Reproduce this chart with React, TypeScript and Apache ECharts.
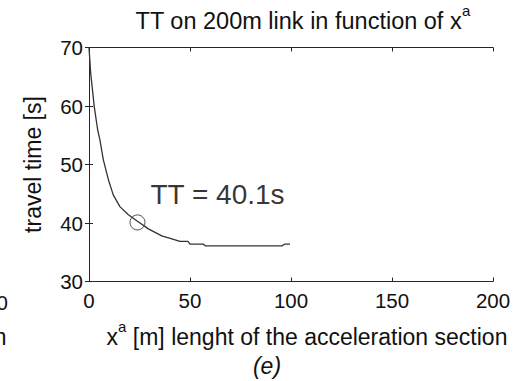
import React, { useEffect, useRef } from "react";
import * as echarts from "echarts";

// x^a [m] : length of acceleration section
const accelLength = [0, 0.8, 2.6, 4.3, 5.4, 7.1, 9.6, 12.0, 15.3, 19.5, 24, 29.4, 36, 41, 45, 49, 50, 56.5, 57.5, 95.5, 97, 99.5];
// travel time [s]
const travelTime = [70, 65.7, 59.9, 55.9, 54.2, 50.8, 47.4, 44.8, 42.8, 41.4, 40.3, 39.0, 37.8, 37.3, 36.85, 36.85, 36.4, 36.4, 36.1, 36.1, 36.4, 36.4];
// highlighted point
const markerX = [24];
const markerTT = [40.1];
const xTicks = [0, 50, 100, 150, 200];
const yTicks = [30, 40, 50, 60, 70];

const FONT = "'Liberation Sans', Arial, Helvetica, sans-serif";
const AX = "#262626";
const TXT = "#111";

type Seg = { text: string; size: number; dy: number };

function measure(text: string, size: number): number {
  const c = document.createElement("canvas");
  const ctx = c.getContext("2d")!;
  ctx.font = `${size}px ${FONT}`;
  return ctx.measureText(text).width;
}

function segmentedText(segs: Seg[], x: number, y: number, align: "left" | "center" | "right") {
  const widths = segs.map((s) => measure(s.text, s.size));
  const total = widths.reduce((a, b) => a + b, 0);
  let cx = align === "left" ? x : align === "center" ? x - total / 2 : x - total;
  const out: any[] = [];
  segs.forEach((s, i) => {
    out.push({
      type: "text",
      x: cx,
      y: y + s.dy,
      style: {
        text: s.text, fontSize: s.size, fontFamily: FONT, fill: TXT,
        align: "left", verticalAlign: "middle", textAlign: "left", textVerticalAlign: "middle",
      },
    });
    cx += widths[i];
  });
  return out;
}

export default function App() {
  const ref = useRef<HTMLDivElement>(null);
  useEffect(() => {
    document.body.style.margin = "0";
    const chart = echarts.init(ref.current!, null, { renderer: "svg" });
    const axisCommon = {
      axisLine: { show: true, lineStyle: { color: AX, width: 1 } },
      axisTick: { show: true, inside: true, length: 4, lineStyle: { color: AX, width: 1 } },
      splitLine: { show: false },
    };
    const titleSegs: Seg[] = [
      { text: "TT on 200m link in function of x", size: 23.5, dy: 0 },
      { text: "a", size: 15, dy: -11 },
    ];
    const xNameSegs: Seg[] = [
      { text: "x", size: 23, dy: 0 },
      { text: "a", size: 15, dy: -11 },
      { text: " [m] lenght of the acceleration section", size: 23, dy: 0 },
    ];
    chart.setOption({
      animation: false,
      textStyle: { fontFamily: FONT },
      grid: { left: 89, right: 34, top: 47.5, bottom: 99.5 },
      xAxis: [
        {
          type: "value", min: xTicks[0], max: xTicks[xTicks.length - 1], interval: xTicks[1] - xTicks[0],
          position: "bottom", ...axisCommon,
          axisLabel: { fontSize: 20.5, color: TXT, margin: 8, fontFamily: FONT },
        },
        {
          type: "value", min: xTicks[0], max: xTicks[xTicks.length - 1], interval: xTicks[1] - xTicks[0],
          position: "top", ...axisCommon, axisLabel: { show: false },
        },
      ],
      yAxis: [
        {
          type: "value", min: yTicks[0], max: yTicks[yTicks.length - 1], interval: yTicks[1] - yTicks[0],
          position: "left", ...axisCommon,
          axisLabel: { fontSize: 20.5, color: TXT, margin: 6, fontFamily: FONT },
          name: "travel time [s]", nameLocation: "middle", nameGap: 45,
          nameTextStyle: { fontSize: 23, color: TXT, fontFamily: FONT },
        },
        {
          type: "value", min: yTicks[0], max: yTicks[yTicks.length - 1], interval: yTicks[1] - yTicks[0],
          position: "right", ...axisCommon, axisLabel: { show: false },
        },
      ],
      series: [
        {
          type: "line",
          data: accelLength.map((x, i) => [x, travelTime[i]]),
          showSymbol: false,
          symbol: "none",
          lineStyle: { color: "#333", width: 1.3 },
        },
        {
          type: "scatter",
          data: markerX.map((x, i) => [x, markerTT[i]]),
          symbol: "circle",
          symbolSize: 15,
          itemStyle: { color: "rgba(0,0,0,0)", borderColor: "#222", borderWidth: 1 },
          label: {
            show: true,
            formatter: () => `TT = ${markerTT[0]}s`,
            position: [21, -19.5],
            align: "left",
            verticalAlign: "middle",
            fontSize: 28,
            color: "#000",
            fontFamily: FONT,
          },
        },
      ],
      graphic: [
        ...segmentedText(titleSegs, 303, 21, "center"),
        ...segmentedText(xNameSegs, 307, 337, "center"),
        {
          type: "text", x: 267, y: 366,
          style: {
            text: "(e)", fontSize: 23, fontStyle: "italic", fontFamily: FONT, fill: TXT,
            align: "center", verticalAlign: "middle", textAlign: "center", textVerticalAlign: "middle",
          },
        },
        {
          type: "text", x: 8, y: 302.5,
          style: {
            text: "200", fontSize: 20.5, fontFamily: FONT, fill: TXT,
            align: "right", verticalAlign: "middle", textAlign: "right", textVerticalAlign: "middle",
          },
        },
        ...segmentedText(xNameSegs, 6.5, 337, "right"),
      ],
    });
    return () => chart.dispose();
  }, []);
  return <div ref={ref} style={{ width: 527, height: 381 }} />;
}
